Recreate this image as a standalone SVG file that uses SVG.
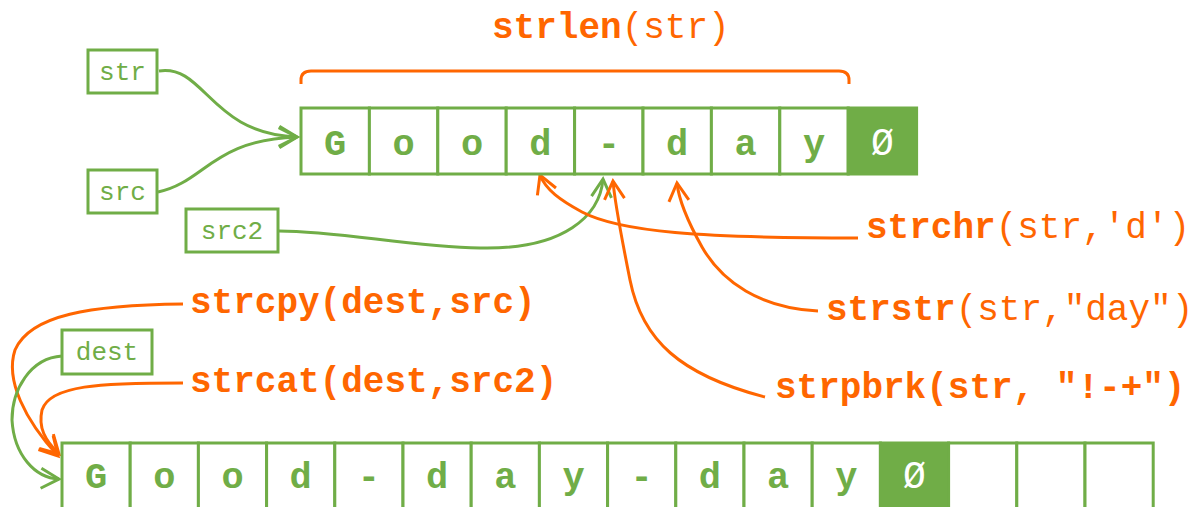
<svg xmlns="http://www.w3.org/2000/svg" width="1198" height="507" viewBox="0 0 1198 507">
<style>
.cell{fill:#fff;stroke:#70AD47;stroke-width:3}
.nul{fill:#70AD47;stroke:#70AD47;stroke-width:3}
.ch{font-family:"Liberation Mono","Courier New",monospace;font-weight:bold;font-size:37px;fill:#70AD47;text-anchor:middle}
.nz{font-family:"Liberation Mono","Courier New",monospace;font-size:38px;fill:#fff;text-anchor:middle}
.box{fill:#fff;stroke:#70AD47;stroke-width:3}
.bt{font-family:"Liberation Mono","Courier New",monospace;font-size:26px;fill:#70AD47;text-anchor:middle}
.fn{font-family:"Liberation Mono","Courier New",monospace;font-size:36px;fill:#FF6600}
.b{font-weight:bold}
.g{fill:none;stroke:#70AD47;stroke-width:3}
.o{fill:none;stroke:#FF6600;stroke-width:3}
</style>
<defs>
<marker id="ag" markerUnits="userSpaceOnUse" markerWidth="24" markerHeight="24" refX="19" refY="11" orient="auto" overflow="visible">
<path d="M1,1 L19,11 L1,21" fill="none" stroke="#70AD47" stroke-width="3"/>
</marker>
<marker id="ao" markerUnits="userSpaceOnUse" markerWidth="24" markerHeight="24" refX="19" refY="11" orient="auto" overflow="visible">
<path d="M1,1 L19,11 L1,21" fill="none" stroke="#FF6600" stroke-width="3"/>
</marker>
</defs>
<rect width="1198" height="507" fill="#fff"/>

<g id="connectors">
<path class="o" d="M301,84 L301,80 Q301,71 311,71 L839,71 Q849,71 849,80 L849,84"/>
<path class="g" d="M159,71 C205,64 210,134 297,137" marker-end="url(#ag)"/>
<path class="g" d="M158,192 C205,182 212,140 297,137" marker-end="url(#ag)"/>
<path class="g" d="M279,231 C340,231 410,247 480,248 C565,250 600,215 603,179" marker-end="url(#ag)"/>
<path class="o" d="M858,238 C700,238 620,232 582,212 C560,200 546,190 540,175" marker-end="url(#ao)"/>
<path class="o" d="M765,397 C680,375 642,340 630,280 C622,240 615,205 613,181" marker-end="url(#ao)"/>
<path class="o" d="M818,311 C760,308 722,282 702,247 C688,222 679,202 677,183" marker-end="url(#ao)"/>
<path class="o" d="M183,304 C90,305 30,315 15,350 C5,380 25,420 58,456" marker-end="url(#ao)"/>
<path class="o" d="M183,383 C100,383 50,385 42,410 C38,428 45,440 59,454" marker-end="url(#ao)"/>
<path class="g" d="M62,356 C30,358 12,390 12,420 C14,455 35,478 59,479" marker-end="url(#ag)"/>
</g>

<g id="box-str"><rect class="box" x="88" y="50" width="69" height="43"/><text class="bt" x="122.5" y="80">str</text></g>
<g id="box-src"><rect class="box" x="88" y="170" width="69" height="43"/><text class="bt" x="122.5" y="200">src</text></g>
<g id="box-src2"><rect class="box" x="186" y="209" width="92" height="43"/><text class="bt" x="232" y="239">src2</text></g>
<g id="box-dest"><rect class="box" x="62" y="330" width="90" height="44"/><text class="bt" x="107" y="360">dest</text></g>

<g id="row-top">
<rect class="cell" x="301" y="108" width="68.4" height="66"/>
<rect class="cell" x="369.4" y="108" width="68.4" height="66"/>
<rect class="cell" x="437.8" y="108" width="68.4" height="66"/>
<rect class="cell" x="506.2" y="108" width="68.4" height="66"/>
<rect class="cell" x="574.6" y="108" width="68.4" height="66"/>
<rect class="cell" x="643" y="108" width="68.4" height="66"/>
<rect class="cell" x="711.4" y="108" width="68.4" height="66"/>
<rect class="cell" x="779.8" y="108" width="68.4" height="66"/>
<rect class="nul" x="848.2" y="108" width="68.4" height="66"/>
<text class="ch" x="335.2" y="155">G</text>
<text class="ch" x="403.6" y="155">o</text>
<text class="ch" x="472" y="155">o</text>
<text class="ch" x="540.4" y="155">d</text>
<text class="ch" x="608.8" y="155">-</text>
<text class="ch" x="677.2" y="155">d</text>
<text class="ch" x="745.6" y="155">a</text>
<text class="ch" x="814" y="155">y</text>
<text class="nz" x="882.4" y="155">Ø</text>
</g>

<g id="row-bottom">
<rect class="cell" x="62" y="443" width="68.2" height="70"/>
<rect class="cell" x="130.2" y="443" width="68.2" height="70"/>
<rect class="cell" x="198.4" y="443" width="68.2" height="70"/>
<rect class="cell" x="266.6" y="443" width="68.2" height="70"/>
<rect class="cell" x="334.8" y="443" width="68.2" height="70"/>
<rect class="cell" x="403" y="443" width="68.2" height="70"/>
<rect class="cell" x="471.2" y="443" width="68.2" height="70"/>
<rect class="cell" x="539.4" y="443" width="68.2" height="70"/>
<rect class="cell" x="607.6" y="443" width="68.2" height="70"/>
<rect class="cell" x="675.8" y="443" width="68.2" height="70"/>
<rect class="cell" x="744" y="443" width="68.2" height="70"/>
<rect class="cell" x="812.2" y="443" width="68.2" height="70"/>
<rect class="nul" x="880.4" y="443" width="68.2" height="70"/>
<rect class="cell" x="948.6" y="443" width="68.2" height="70"/>
<rect class="cell" x="1016.8" y="443" width="68.2" height="70"/>
<rect class="cell" x="1085" y="443" width="68.2" height="70"/>
<text class="ch" x="96.1" y="488">G</text>
<text class="ch" x="164.3" y="488">o</text>
<text class="ch" x="232.5" y="488">o</text>
<text class="ch" x="300.7" y="488">d</text>
<text class="ch" x="368.9" y="488">-</text>
<text class="ch" x="437.1" y="488">d</text>
<text class="ch" x="505.3" y="488">a</text>
<text class="ch" x="573.5" y="488">y</text>
<text class="ch" x="641.7" y="488">-</text>
<text class="ch" x="709.9" y="488">d</text>
<text class="ch" x="778.1" y="488">a</text>
<text class="ch" x="846.3" y="488">y</text>
<text class="nz" x="914.5" y="488">Ø</text>
</g>

<g id="label-strlen"><text class="fn" x="492" y="38"><tspan class="b">strlen</tspan>(str)</text></g>
<g id="label-strchr"><text class="fn" x="866" y="238"><tspan class="b">strchr</tspan>(str,'d')</text></g>
<g id="label-strstr"><text class="fn" x="826" y="320"><tspan class="b">strstr</tspan>(str,"day")</text></g>
<g id="label-strpbrk"><text class="fn b" x="775" y="398">strpbrk(str, "!-+")</text></g>
<g id="label-strcpy"><text class="fn b" x="190" y="313">strcpy(dest,src)</text></g>
<g id="label-strcat"><text class="fn b" x="190" y="392">strcat(dest,src2)</text></g>
</svg>
